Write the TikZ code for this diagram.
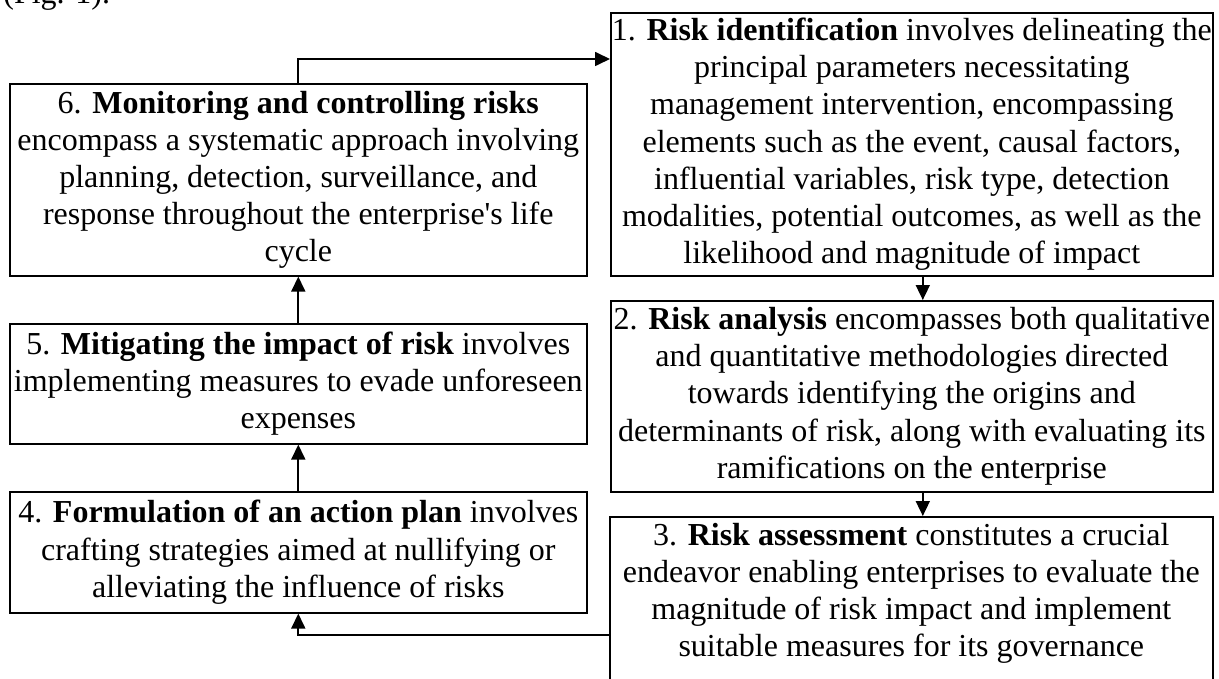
\documentclass[tikz,border=0pt]{standalone}
\usepackage{fontspec}
\setmainfont{Liberation Serif}
\usetikzlibrary{arrows.meta}
\begin{document}
\begin{tikzpicture}[x=0.5pt,y=-0.5pt,
  txt/.style={font=\fontsize{16}{18.6}\selectfont},
  box/.style={txt, draw, line width=0.8pt, inner sep=0pt, align=center, anchor=north west},
  flow/.style={line width=0.85pt, -{Triangle[length=7.5pt,width=7pt]}}]
\useasboundingbox (0,0) rectangle (1219,679);
\node[txt, anchor=base west, inner sep=0pt] (fig) at (3,4) {(Fig. 1).};
\node[box, minimum width=301pt, minimum height=131.5pt] (b1) at (610,12)
 {1. \textbf{Risk identification} involves delineating the\\
  principal parameters necessitating\\
  management intervention, encompassing\\
  elements such as the event, causal factors,\\
  influential variables, risk type, detection\\
  modalities, potential outcomes, as well as the\\
  likelihood and magnitude of impact};
\node[box, minimum width=301pt, minimum height=95.5pt] (b2) at (610,300)
 {2. \textbf{Risk analysis} encompasses both qualitative\\
  and quantitative methodologies directed\\
  towards identifying the origins and\\
  determinants of risk, along with evaluating its\\
  ramifications on the enterprise};
\node[box] (b3) at (609,516)
 {\parbox[t][150pt][t]{301.5pt}{\centering\vspace*{3pt}%
  3. \textbf{Risk assessment} constitutes a crucial\\
  endeavor enabling enterprises to evaluate the\\
  magnitude of risk impact and implement\\
  suitable measures for its governance}};
\node[box, minimum width=288.5pt, minimum height=96pt] (b6) at (9,83)
 {6. \textbf{Monitoring and controlling risks}\\
  encompass a systematic approach involving\\
  planning, detection, surveillance, and\\
  response throughout the enterprise\textquotesingle s life\\
  cycle};
\node[box, minimum width=288.5pt, minimum height=60pt] (b5) at (9,323)
 {5. \textbf{Mitigating the impact of risk} involves\\
  implementing measures to evade unforeseen\\
  expenses};
\node[box, minimum width=288.5pt, minimum height=60.5pt] (b4) at (9,491)
 {4. \textbf{Formulation of an action plan} involves\\
  crafting strategies aimed at nullifying or\\
  alleviating the influence of risks};
\draw[flow] (b6.north) |- (b1.north west |- 0,59);
\draw[flow] ([xshift=5.5pt]b1.south) -- ([xshift=5.5pt]b2.north);
\draw[flow] ([xshift=5.5pt]b2.south) -- ([xshift=5.5pt]b2.south |- b3.north);
\draw[flow] (b3.north west |- 0,635) -| (b4.south);
\draw[flow] (b4.north) -- (b5.south);
\draw[flow] (b5.north) -- (b6.south);
\end{tikzpicture}
\end{document}
